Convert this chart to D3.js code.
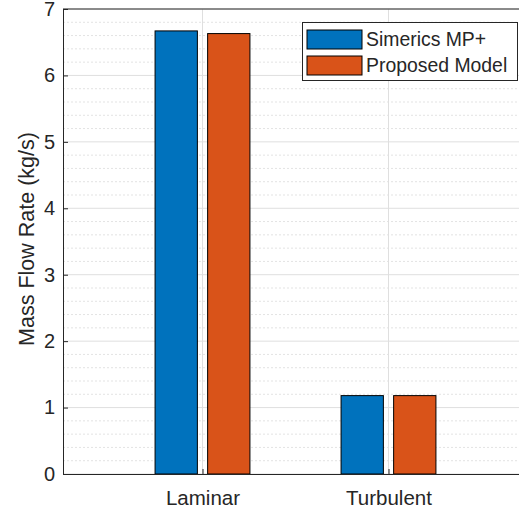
<!DOCTYPE html>
<html>
<head>
<meta charset="utf-8">
<script src="https://cdn.jsdelivr.net/npm/d3@7"></script>
<style>
  body { margin: 0; background: #fff; }
  text { font-family: "Liberation Sans", Arial, sans-serif; fill: #262626; }
</style>
</head>
<body>
<script>
(function() {
  const categories = ['Laminar', 'Turbulent'];
  const seriesNames = ['Simerics MP+', 'Proposed Model'];
  const simerics = [6.67, 1.18];
  const proposed = [6.63, 1.18];
  const yTicks = [0, 1, 2, 3, 4, 5, 6, 7];
  const colors = ['#0072BD', '#D95319'];

  const width = 519;
  const height = 512;
  const left = 63;
  const top = 9;
  const bottom = 474;
  const right = 528;

  const seriesValues = [simerics, proposed];

  const svg = d3.select('body').append('svg').attr('width', width).attr('height', height);

  const xScale = d3.scaleLinear().domain([0.25, 2.75]).range([left, right]);
  const xSub = d3.scaleBand().domain(seriesNames).range([-0.255, 0.255]).paddingInner(0.195);
  const yScale = d3.scaleLinear().domain([0, 7]).range([bottom, top]);

  // minor grid
  const minor = d3.range(0, 7.001, 0.2).filter(function(v) { return Math.abs(v - Math.round(v)) > 1e-6; });
  svg.append('g')
    .selectAll('line')
    .data(minor)
    .enter()
    .append('line')
    .attr('x1', left).attr('x2', right)
    .attr('y1', function(d) { return yScale(d); })
    .attr('y2', function(d) { return yScale(d); })
    .attr('stroke', '#e3e3e3')
    .attr('stroke-dasharray', '2,2');

  // major grid
  svg.append('g')
    .selectAll('line')
    .data(yTicks)
    .enter()
    .append('line')
    .attr('x1', left).attr('x2', right)
    .attr('y1', function(d) { return yScale(d); })
    .attr('y2', function(d) { return yScale(d); })
    .attr('stroke', '#dfdfdf');

  svg.append('g')
    .selectAll('line')
    .data(categories)
    .enter()
    .append('line')
    .attr('x1', function(d, i) { return xScale(i + 1); })
    .attr('x2', function(d, i) { return xScale(i + 1); })
    .attr('y1', top).attr('y2', bottom)
    .attr('stroke', '#dfdfdf');

  // bars
  seriesNames.forEach(function(name, s) {
    svg.append('g')
      .selectAll('rect')
      .data(seriesValues[s])
      .enter()
      .append('rect')
      .attr('x', function(d, i) { return xScale(i + 1 + xSub(name)); })
      .attr('y', function(d) { return yScale(d); })
      .attr('width', xScale(xSub.bandwidth()) - xScale(0))
      .attr('height', function(d) { return bottom - yScale(d); })
      .attr('fill', colors[s])
      .attr('stroke', '#000')
      .attr('stroke-width', 1);
  });

  // axes
  const yAxis = svg.append('g')
    .attr('transform', 'translate(' + left + ',0)')
    .call(d3.axisLeft(yScale).tickValues(yTicks).tickSize(-5).tickPadding(8).tickFormat(d3.format('d')));
  yAxis.select('.domain').attr('stroke', '#262626');
  yAxis.selectAll('.tick line').attr('stroke', '#262626');
  yAxis.selectAll('text').style('font-size', '20px').attr('fill', '#262626');

  const xAxis = svg.append('g')
    .attr('transform', 'translate(0,' + bottom + ')')
    .call(d3.axisBottom(xScale).tickValues([1, 2]).tickSize(-5).tickPadding(16)
      .tickFormat(function(d) { return categories[d - 1]; }));
  xAxis.select('.domain').attr('stroke', '#262626');
  xAxis.selectAll('.tick line').attr('stroke', '#262626');
  xAxis.selectAll('text').style('font-size', '20.5px').attr('fill', '#262626');

  svg.append('line')
    .attr('x1', left).attr('x2', right)
    .attr('y1', top).attr('y2', top)
    .attr('stroke', '#262626');

  svg.append('text')
    .attr('transform', 'translate(26,239) rotate(-90)')
    .attr('text-anchor', 'middle')
    .attr('dy', '0.35em')
    .style('font-size', '21.5px')
    .text('Mass Flow Rate (kg/s)');

  // legend
  const legend = svg.append('g');
  legend.append('rect')
    .attr('x', 302.5).attr('y', 22.5)
    .attr('width', 215).attr('height', 58)
    .attr('fill', '#fff')
    .attr('stroke', '#262626');
  seriesNames.forEach(function(name, s) {
    legend.append('rect')
      .attr('x', 307).attr('y', 30 + s * 26)
      .attr('width', 55).attr('height', 19)
      .attr('fill', colors[s])
      .attr('stroke', '#000');
    legend.append('text')
      .attr('x', 366).attr('y', 39.5 + s * 26)
      .attr('dy', '0.35em')
      .style('font-size', '19.4px')
      .text(name);
  });
})();
</script>
</body>
</html>
